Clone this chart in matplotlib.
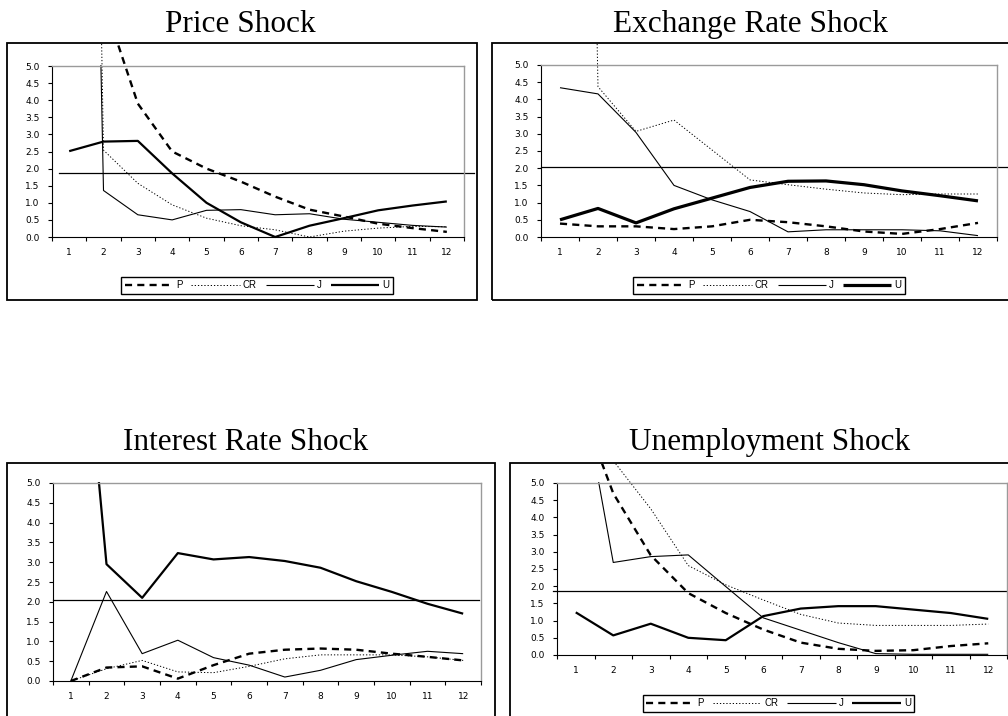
import numpy as np
import matplotlib.pyplot as plt
from matplotlib.patches import Rectangle
from matplotlib.lines import Line2D
from matplotlib.transforms import Bbox, TransformedBbox, blended_transform_factory

W, H = 1008, 716

periods = list(range(1, 13))
names = ['P', 'CR', 'J', 'U']

# Price shock
price_P = [9.0, 6.9, 3.9, 2.5, 2.0, 1.62, 1.18, 0.8, 0.6, 0.39, 0.26, 0.15]
price_CR = [60.0, 2.54, 1.57, 0.94, 0.55, 0.33, 0.21, 0.0, 0.17, 0.26, 0.31, 0.3]
price_J = [50.0, 1.36, 0.65, 0.5, 0.78, 0.8, 0.65, 0.68, 0.52, 0.43, 0.34, 0.29]
price_U = [2.51, 2.79, 2.81, 1.86, 1.0, 0.43, 0.0, 0.33, 0.55, 0.78, 0.92, 1.04]
price_ref = 1.87

# Exchange rate shock
exch_P = [0.39, 0.31, 0.31, 0.23, 0.31, 0.5, 0.43, 0.31, 0.16, 0.09, 0.23, 0.41]
exch_CR = [60.0, 4.37, 3.07, 3.4, 2.53, 1.66, 1.52, 1.39, 1.28, 1.23, 1.25, 1.25]
exch_J = [4.34, 4.16, 3.04, 1.5, 1.08, 0.74, 0.15, 0.21, 0.21, 0.21, 0.18, 0.04]
exch_U = [0.5, 0.83, 0.41, 0.82, 1.13, 1.44, 1.62, 1.63, 1.52, 1.34, 1.2, 1.05]
exch_ref = 2.03

# Interest rate shock
int_P = [0.0, 0.34, 0.37, 0.06, 0.4, 0.69, 0.79, 0.82, 0.79, 0.69, 0.61, 0.52]
int_CR = [0.0, 0.31, 0.52, 0.23, 0.21, 0.37, 0.56, 0.66, 0.66, 0.66, 0.61, 0.52]
int_J = [0.0, 2.26, 0.69, 1.03, 0.59, 0.4, 0.1, 0.27, 0.54, 0.65, 0.75, 0.69]
int_U = [12.7, 2.95, 2.1, 3.23, 3.07, 3.13, 3.03, 2.86, 2.52, 2.25, 1.95, 1.7]
int_ref = 2.05

# Unemployment shock
unemp_P = [7.6, 4.7, 2.9, 1.8, 1.22, 0.74, 0.36, 0.18, 0.12, 0.14, 0.26, 0.34]
unemp_CR = [9.0, 5.65, 4.25, 2.6, 2.04, 1.6, 1.18, 0.93, 0.86, 0.86, 0.86, 0.9]
unemp_J = [8.7, 2.69, 2.86, 2.91, 1.99, 1.08, 0.72, 0.36, 0.04, 0.02, 0.02, 0.02]
unemp_U = [1.24, 0.57, 0.91, 0.5, 0.43, 1.13, 1.35, 1.42, 1.42, 1.32, 1.22, 1.05]
unemp_ref = 1.86

panels = [
    dict(title='Price Shock', data=[price_P, price_CR, price_J, price_U], ref=price_ref,
         frame=(7, 43, 477, 300), plot=(52, 66, 464, 237), ref_span=(0.017, 1.024),
         title_xy=(240, 32), legend=(257, 285.5), u_lw=1.6),
    dict(title='Exchange Rate Shock', data=[exch_P, exch_CR, exch_J, exch_U], ref=exch_ref,
         frame=(492, 43, 1030, 300), plot=(541, 65, 997, 237), ref_span=(0.0, 1.05),
         title_xy=(750, 32), legend=(769, 285.5), u_lw=2.3),
    dict(title='Interest Rate Shock', data=[int_P, int_CR, int_J, int_U], ref=int_ref,
         frame=(7, 463, 495, 740), plot=(53, 483, 481, 681), ref_span=(0.0, 0.995),
         title_xy=(246, 450), legend=None, u_lw=1.6),
    dict(title='Unemployment Shock', data=[unemp_P, unemp_CR, unemp_J, unemp_U], ref=unemp_ref,
         frame=(510, 463, 1030, 740), plot=(557, 483, 1007, 655), ref_span=(-0.01, 1.05),
         title_xy=(770, 450), legend=(778.5, 703.5), u_lw=1.6),
]

styles = {
    'P': dict(color='black', lw=1.7, dashes=(3.0, 2.2)),
    'CR': dict(color='black', lw=0.7, dashes=(1.3, 2.0)),
    'J': dict(color='black', lw=0.8),
    'U': dict(color='black', lw=1.6),
}

sans = 'Liberation Sans'
tick_font = 'DejaVu Sans'
serif = 'Liberation Serif'

fig = plt.figure(figsize=(W / 100, H / 100), dpi=100)
fig.patch.set_facecolor('white')


def fbox(x0, y0, x1, y1):
    return TransformedBbox(Bbox.from_extents(x0 / W, 1 - y1 / H, x1 / W, 1 - y0 / H),
                           fig.transFigure)


for p in panels:
    fx0, fy0, fx1, fy1 = p['frame']
    fig.add_artist(Rectangle((fx0 / W, 1 - fy1 / H), (fx1 - fx0) / W, (fy1 - fy0) / H,
                             transform=fig.transFigure, fill=False,
                             edgecolor='black', lw=1.3))
    fig.text(p['title_xy'][0] / W, 1 - p['title_xy'][1] / H, p['title'],
             ha='center', va='baseline', fontsize=22.5, family=serif)

    x0, y0, x1, y1 = p['plot']
    ax = fig.add_axes([x0 / W, 1 - y1 / H, (x1 - x0) / W, (y1 - y0) / H])
    ax.set_xlim(0.5, 12.5)
    ax.set_ylim(0, 5)

    frame_clip = fbox(fx0 + 1, fy0 + 1, fx1 - 1, fy1 - 1)
    plot_clip = fbox(fx0 + 1, y0 - 1, fx1 - 1, fy1 - 1)

    for name, vals in zip(names, p['data']):
        st = dict(styles[name])
        if name == 'U':
            st['lw'] = p['u_lw']
        dashes = st.pop('dashes', None)
        line, = ax.plot(periods, vals, solid_capstyle='butt', **st)
        if dashes is not None:
            line.set_dashes(dashes)
        line.set_clip_box(frame_clip if name in ('P', 'CR') else plot_clip)

    tr = blended_transform_factory(ax.transAxes, ax.transData)
    ax.plot(list(p['ref_span']), [p['ref'], p['ref']], transform=tr,
            color='black', lw=0.9, clip_on=False)

    ax.set_yticks(np.arange(0, 5.01, 0.5))
    ax.set_yticklabels([f'{v:.1f}' for v in np.arange(0, 5.01, 0.5)],
                       fontsize=6.5, family=tick_font)
    ax.set_xticks(np.arange(0.5, 12.6, 1.0))
    ax.set_xticklabels([])
    ax.set_xticks(periods, minor=True)
    ax.set_xticklabels([str(i) for i in periods], minor=True, fontsize=6.5,
                       family=tick_font)
    ax.tick_params(axis='x', which='major', direction='out', length=3, width=0.8)
    ax.tick_params(axis='x', which='minor', length=0, pad=8)
    ax.tick_params(axis='y', direction='out', length=3, width=0.8, pad=6)
    for s in ('top', 'right'):
        ax.spines[s].set_color('#9a9a9a')
        ax.spines[s].set_linewidth(1.0)
    for s in ('left', 'bottom'):
        ax.spines[s].set_color('black')
        ax.spines[s].set_linewidth(0.8)

    if p['legend'] is not None:
        handles = []
        for name in names:
            st = dict(styles[name])
            if name == 'U':
                st['lw'] = p['u_lw']
            dashes = st.pop('dashes', None)
            h = Line2D([], [], solid_capstyle='butt', **st)
            if dashes is not None:
                h.set_dashes(dashes)
            handles.append(h)
        lx, ly = p['legend']
        leg = fig.legend(handles, names, ncol=4, loc='center',
                         bbox_to_anchor=(lx / W, 1 - ly / H),
                         bbox_transform=fig.transFigure,
                         frameon=True, fancybox=False, framealpha=1,
                         edgecolor='black', handlelength=5.0, handletextpad=0.3,
                         columnspacing=0.9, borderpad=0.35,
                         prop={'family': sans, 'size': 7})
        leg.get_frame().set_linewidth(1.0)

fig.savefig('out.png', dpi=100, facecolor='white')
